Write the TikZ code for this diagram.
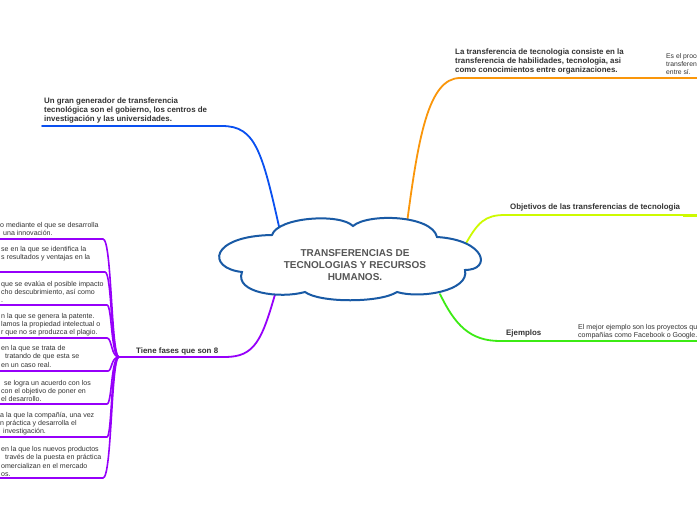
\documentclass[tikz,border=0pt]{standalone}
\usepackage{fontspec}
\setmainfont{Liberation Sans}
\newcommand{\tlines}[1]{\vtop{\halign{##\hfil\cr#1\crcr}}}
\newcommand{\clines}[1]{\vtop{\halign{\hfil##\hfil\cr#1\crcr}}}
\definecolor{cloudc}{RGB}{25,90,165}
\definecolor{txt}{RGB}{51,51,51}
\definecolor{ttl}{RGB}{85,85,85}
\definecolor{cblue}{RGB}{10,80,240}
\definecolor{corange}{RGB}{250,150,10}
\definecolor{cyel}{RGB}{205,250,0}
\definecolor{cgreen}{RGB}{60,235,20}
\definecolor{cpurp}{RGB}{150,0,250}
\tikzset{
  lbl/.style={anchor=base west, inner sep=0pt, text=txt, font=\fontsize{7.9}{9}\selectfont\bfseries},
  sml/.style={anchor=base west, inner sep=0pt, text=txt, font=\fontsize{7.05}{8.3}\selectfont},
  conn/.style={line width=1.8pt, line cap=round},
  branch/.style={conn, cpurp, line width=1.6pt},
}
\begin{document}
\begin{tikzpicture}[x=1pt,y=-1pt]
\useasboundingbox (0,0) rectangle (697,520);
\fill[white] (0,0) rectangle (697,520);
\clip (0,0) rectangle (697,520);

% connector anchor points on the cloud
\coordinate (cb) at (280,231);
\coordinate (co) at (407,223);
\coordinate (cy) at (465,245);
\coordinate (cg) at (440,294);
\coordinate (cp) at (276,291);
\coordinate (hub) at (119,357);

% main connectors
\coordinate (lb) at (42,126);
\draw[conn,cblue] (cb) .. controls (262,150) and (255,126) .. (222,126) -- (lb);
\coordinate (lo) at (700,78);
\draw[conn,corange] (co) .. controls (418,140) and (428,78) .. (460,78) -- (lo);
\coordinate (ly) at (683,215);
\coordinate (ly2) at (700,215);
\draw[conn,cyel] (cy) .. controls (478,222) and (485,215) .. (505,215) -- (ly);
\draw[cyel,line width=3pt] (ly) -- (ly2);
\coordinate (lg) at (700,341);
\draw[conn,cgreen] (cg) .. controls (455,325) and (470,341) .. (500,341) -- (lg);
\draw[conn,cpurp] (cp) .. controls (262,340) and (255,357) .. (225,357) -- (hub);

% purple phase branches
\foreach \yy/\xe in {239/103,272/105,305/107,338/107,371/108,404/107,437/107,478/103}{
  \draw[branch] (hub) .. controls (111,357) and (112,\yy) .. (\xe,\yy) -- (-5,\yy);
}

% cloud
\draw[cloudc, line width=2pt, fill=white]
  (272,235) .. controls (278,217) and (340,213) .. (353,226)
  .. controls (368,213) and (432,215) .. (437,237)
  .. controls (486,240) and (492,270) .. (465,270)
  .. controls (470,291) and (420,299) .. (397,292)
  .. controls (380,303) and (320,303) .. (305,292)
  .. controls (280,299) and (234,293) .. (242,272)
  .. controls (206,268) and (210,236) .. (272,235) -- cycle;
\node[anchor=base, inner sep=0pt, text=ttl, font=\fontsize{10}{12}\selectfont\bfseries] (title) at (355,256.6)
  {\clines{TRANSFERENCIAS DE\cr TECNOLOGIAS Y RECURSOS\cr HUMANOS.}};

% labels
\node[lbl] (tblue) at (44,103.5) {\tlines{Un gran generador de transferencia\cr tecnológica son el gobierno, los centros de\cr investigación y las universidades.}};
\node[lbl] (torange) at (455,54.5) {\tlines{La transferencia de tecnologia consiste en la\cr transferencia de habilidades, tecnologia, asi\cr como conocimientos entre organizaciones.}};
\node[sml, font=\fontsize{6.8}{8}\selectfont] (tproc) at (666,58) {\tlines{Es el proceso de\cr transferencia de\cr entre sí.}};
\node[lbl] (tobj) at (510,209.5) {Objetivos de las transferencias de tecnologia};
\node[lbl] (tej) at (506,335.5) {Ejemplos};
\node[sml] (tejt) at (578,329.5) {\tlines{El mejor ejemplo son los proyectos que\cr compañías como Facebook o Google.}};
\node[lbl] (tfases) at (136,353.5) {Tiene fases que son 8};

% phase texts (cut by the left edge)
\node[sml] (f1) at (0,227.5) {\tlines{o mediante el que se desarrolla\cr\kern3pt una innovación.}};
\node[sml] (f2) at (0,251.5) {\tlines{\kern1pt se en la que se identifica la\cr\kern1pt s resultados y ventajas en la}};
\node[sml] (f3) at (0,286) {\tlines{\kern1pt que se evalúa el posible impacto\cr\kern1pt cho descubrimiento, así como\cr\kern1pt .}};
\node[sml] (f4) at (0,318) {\tlines{\kern1pt n la que se genera la patente.\cr\kern1pt lamos la propiedad intelectual o\cr\kern1pt r que no se produzca el plagio.}};
\node[sml] (f5) at (0,350.5) {\tlines{\kern1pt en la que se trata de\cr\kern5pt tratando de que esta se\cr\kern1pt en un caso real.}};
\node[sml] (f6) at (0,385) {\tlines{\kern4pt se logra un acuerdo con los\cr\kern1pt con el objetivo de poner en\cr\kern1pt el desarrollo.}};
\node[sml] (f7) at (0,417) {\tlines{a la que la compañía, una vez\cr n práctica y desarrolla el\cr\kern3pt investigación.}};
\node[sml] (f8) at (0,451.5) {\tlines{\kern1pt en la que los nuevos productos\cr\kern5pt través de la puesta en práctica\cr\kern1pt omercializan en el mercado\cr\kern1pt os.}};
\end{tikzpicture}
\end{document}
